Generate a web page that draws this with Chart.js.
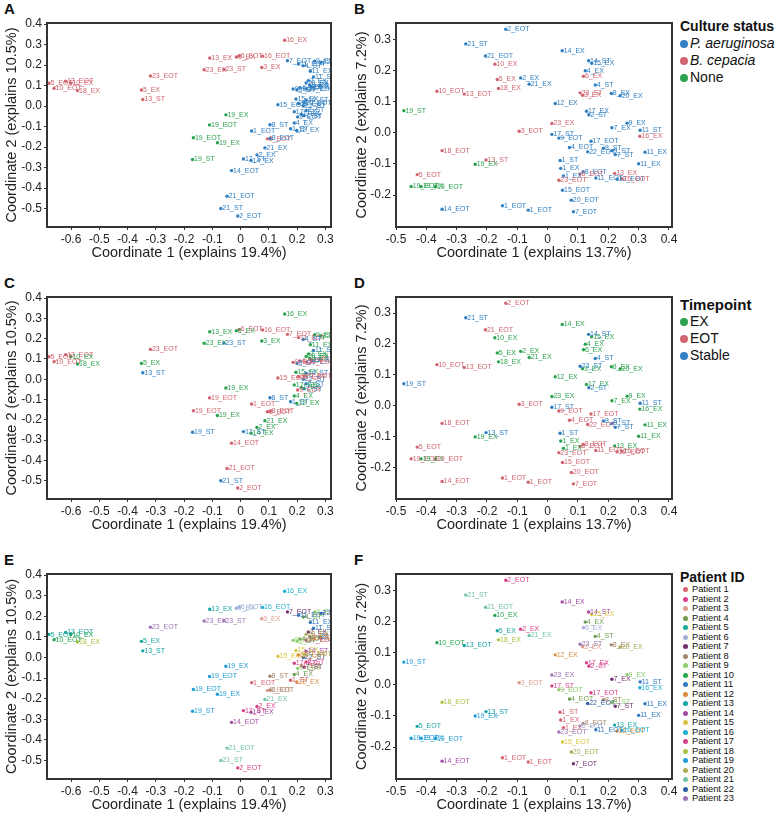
<!DOCTYPE html>
<html>
<head>
<meta charset="utf-8">
<script src="https://cdn.jsdelivr.net/npm/chart.js@4.4.1/dist/chart.umd.min.js"></script>
<style>
  body { margin: 0; background: #fff; font-family: Arial, 'Liberation Sans', sans-serif; color: #111; }
  #page { position: relative; width: 784px; height: 820px; overflow: hidden; }
  canvas { position: absolute; }
  .letter { position: absolute; font-weight: bold; font-size: 15px; line-height: 16px; }
  .legend { position: absolute; left: 680px; }
  .legend .ttl { font-weight: bold; font-size: 14px; line-height: 17px; white-space: nowrap; }
  .legend .row { display: flex; align-items: center; font-size: 14px; line-height: 17px; white-space: nowrap; }
  .legend .dot { width: 8px; height: 8px; border-radius: 50%; margin-right: 2px; flex: none; }
  #legPat .ttl { line-height: 14px; margin-bottom: 1px; }
  #legPat .row { font-size: 9.3px; line-height: 9.5px; }
  #legPat .dot { width: 5px; height: 5px; margin: 0 4px 0 3px; }
</style>
</head>
<body>
<div id="page">
  <div class="letter" style="left:4px;top:1px">A</div>
  <div class="letter" style="left:354px;top:1px">B</div>
  <div class="letter" style="left:4px;top:275px">C</div>
  <div class="letter" style="left:354px;top:275px">D</div>
  <div class="letter" style="left:4px;top:552px">E</div>
  <div class="letter" style="left:354px;top:552px">F</div>
  <div class="legend" id="legStatus" style="top:18px"></div>
  <div class="legend" id="legTime" style="top:296px"></div>
  <div class="legend" id="legPat" style="top:570px"></div>
</div>
<script>
// Ordenación 1 (columna izquierda: A, C, E)
const ORD1_LABELS = ['16_EX','13_EX','6_EOT','6_EX','16_EOT','7_EOT','3_EX','23_EX','23_ST','23_EOT',
  '5_EOT','13_EOT','10_EX','10_EOT','18_EX','5_EX','13_ST','19_EX','19_EOT','19_EOT',
  '19_EX','19_ST','1_EOT','8_ST','4_EX','1_ST','12_EX','3_EOT','8_EOT','21_EX',
  '17_ST','2_EX','14_EX','14_EOT','21_EOT','21_ST','2_EOT','11_EOT','9_EX','22_EX',
  '4_ST','11_EX','11_ST','7_EX','20_EX','9_EOT','9_ST','4_EOT','17_EOT','22_EOT',
  '8_EX','12_ST','15_EOT','15_EX','14_ST','22_ST','12_EOT','20_EOT','2_ST','17_EX',
  '1_EX','7_ST','9_EOT'];
const ORD1_X = [0.156,-0.109,-0.005,-0.015,0.078,0.166,0.075,-0.129,-0.059,-0.319,
  -0.678,-0.619,-0.601,-0.66,-0.577,-0.351,-0.346,-0.052,-0.110,-0.167,
  -0.082,-0.170,0.039,0.104,0.190,0.177,0.199,0.095,0.105,0.086,
  0.010,0.058,0.037,-0.032,-0.048,-0.070,-0.010,0.205,0.262,0.285,
  0.222,0.247,0.258,0.240,0.232,0.186,0.200,0.210,0.233,0.280,
  0.245,0.252,0.132,0.196,0.232,0.222,0.205,0.225,0.232,0.190,
  0.215,0.225,0.202];
const ORD1_Y = [0.321,0.234,0.245,0.239,0.243,0.221,0.188,0.177,0.178,0.147,
  0.111,0.121,0.111,0.086,0.075,0.078,0.032,-0.043,-0.092,-0.155,
  -0.179,-0.261,-0.122,-0.091,-0.083,-0.111,-0.119,-0.160,-0.158,-0.204,
  -0.258,-0.238,-0.266,-0.315,-0.440,-0.500,-0.536,0.205,0.219,0.214,
  0.196,0.170,0.142,0.124,0.112,0.083,0.078,0.090,0.085,0.098,
  0.102,0.092,0.006,0.034,0.030,0.000,0.012,0.016,-0.022,-0.028,
  -0.040,-0.047,-0.053];

// Ordenación 2 (columna derecha: B, D, F)
const ORD2_LABELS = ['2_EOT','21_ST','21_EOT','10_EX','5_EX','2_EX','21_EX','18_EX','10_EOT','13_EOT',
  '19_ST','14_EX','14_ST','15_EX','4_EX','6_EX','4_ST','23_ST','3_EX','8_EX',
  '20_EX','12_EX','17_EX','2_ST','23_EX','7_EX','9_EX','11_ST','16_EX','3_EOT',
  '17_ST','9_EOT','17_EOT','4_EOT','22_EOT','8_ST','9_ST','7_ST','11_EX','11_EX',
  '18_EOT','13_ST','19_EX','1_ST','1_EX','5_EOT','8_EOT','6_EOT','1_EX','23_EOT',
  '13_EX','11_EOT','12_EOT','16_EOT','15_EOT','20_EOT','7_EOT','1_EOT','1_EOT','14_EOT',
  '19_EOT','19_EX','19_EOT'];
const ORD2_X = [-0.138,-0.270,-0.205,-0.174,-0.166,-0.089,-0.061,-0.162,-0.365,-0.275,
  -0.474,0.048,0.135,0.145,0.124,0.118,0.157,0.107,0.115,0.210,
  0.239,0.025,0.128,0.136,0.014,0.212,0.262,0.305,0.304,-0.094,
  0.014,0.037,0.143,0.072,0.132,0.184,0.212,0.223,0.321,0.300,
  -0.348,-0.203,-0.239,0.041,0.043,-0.430,0.117,0.107,0.052,0.037,
  0.221,0.159,0.229,0.245,0.049,0.078,0.085,-0.149,-0.064,-0.348,
  -0.450,-0.417,-0.370];
const ORD2_Y = [0.332,0.285,0.246,0.220,0.171,0.176,0.156,0.142,0.133,0.124,
  0.071,0.263,0.231,0.223,0.199,0.181,0.153,0.128,0.120,0.126,
  0.119,0.094,0.069,0.058,0.030,0.016,0.031,0.008,-0.011,0.005,
  -0.005,-0.017,-0.027,-0.047,-0.061,-0.049,-0.057,-0.070,-0.062,-0.099,
  -0.057,-0.087,-0.101,-0.089,-0.114,-0.134,-0.125,-0.132,-0.138,-0.152,
  -0.130,-0.145,-0.149,-0.147,-0.184,-0.216,-0.253,-0.234,-0.248,-0.245,
  -0.172,-0.172,-0.173];

// Marcas de los ejes
const ORD1_XTICKS = [-0.6,-0.5,-0.4,-0.3,-0.2,-0.1,0,0.1,0.2,0.3];
const ORD1_YTICKS = [-0.5,-0.4,-0.3,-0.2,-0.1,0,0.1,0.2,0.3,0.4];
const ORD2_XTICKS = [-0.5,-0.4,-0.3,-0.2,-0.1,0,0.1,0.2,0.3,0.4];
const ORD2_YTICKS = [-0.2,-0.1,0,0.1,0.2,0.3];

// Categorías
const STATUS_NAMES  = ['P. aeruginosa','B. cepacia','None'];
const STATUS_COLORS = ['#2f7fc1','#d0636f','#2ca24f'];
const BCEPACIA_PATIENTS = [3,5,6,10,13,16,18,23];
const NONE_PATIENTS = [19];

const TIME_NAMES  = ['EX','EOT','Stable'];
const TIME_CODES  = ['EX','EOT','ST'];
const TIME_COLORS = ['#2ca24f','#d0636f','#2f7fc1'];

const PATIENTS = Array.from({ length: 23 }, (_, i) => 'Patient ' + (i + 1));
const PATIENT_COLORS = ['#d4626f','#d9418c','#dc9d8b','#6e9a50','#1aa89c','#a3b0dc','#6e2f6f','#a4856c',
  '#8fcd6b','#24a552','#2c79c0','#dd8d41','#18a3a4','#a34ba4','#dac443','#1fb0d4',
  '#d7428c','#abc343','#1f9cd6','#abab55','#73c4a3','#2c5fa3','#9d74b4'];

const patientOf = l => +l.split('_')[0];
const statusColor = l => {
  const p = patientOf(l);
  if (BCEPACIA_PATIENTS.includes(p)) return STATUS_COLORS[1];
  if (NONE_PATIENTS.includes(p)) return STATUS_COLORS[2];
  return STATUS_COLORS[0];
};
const timeColor = l => TIME_COLORS[TIME_CODES.indexOf(l.split('_')[1])];
const patientColor = l => PATIENT_COLORS[patientOf(l) - 1];

Chart.defaults.font.family = 'Arial, "Liberation Sans", sans-serif';

// Etiqueta de texto junto a cada punto
const pointLabels = {
  id: 'pointLabels',
  afterDatasetsDraw(chart) {
    const { ctx, chartArea: a } = chart;
    const ds = chart.data.datasets[0];
    ctx.save();
    ctx.beginPath();
    ctx.rect(a.left, a.top, a.right - a.left, a.bottom - a.top);
    ctx.clip();
    ctx.font = '7px Arial, "Liberation Sans", sans-serif';
    ctx.textBaseline = 'middle';
    chart.getDatasetMeta(0).data.forEach((pt, i) => {
      ctx.fillStyle = ds.backgroundColor[i];
      ctx.fillText(ds.names[i], pt.x + 1.5, pt.y);
    });
    ctx.restore();
  }
};

// Marco completo alrededor del área del gráfico
const frame = {
  id: 'frame',
  afterDraw(chart) {
    const { ctx, chartArea: a } = chart;
    ctx.save();
    ctx.strokeStyle = '#333';
    ctx.lineWidth = 2;
    ctx.strokeRect(a.left, a.top, a.right - a.left, a.bottom - a.top);
    ctx.restore();
  }
};

const COLS = [
  { left: 0,   width: 340, yAxisW: 47,
    labels: ORD1_LABELS, xs: ORD1_X, ys: ORD1_Y, xMin: -0.685, xMax: 0.32, yMin: -0.59, yMax: 0.405,
    xTicks: ORD1_XTICKS, yTicks: ORD1_YTICKS,
    xTitle: 'Coordinate 1 (explains 19.4%)', yTitle: 'Coordinate 2 (explains 10.5%)' },
  { left: 350, width: 330, yAxisW: 46,
    labels: ORD2_LABELS, xs: ORD2_X, ys: ORD2_Y, xMin: -0.5, xMax: 0.41, yMin: -0.302, yMax: 0.352,
    xTicks: ORD2_XTICKS, yTicks: ORD2_YTICKS,
    xTitle: 'Coordinate 1 (explains 13.7%)', yTitle: 'Coordinate 2 (explains 7.2%)' },
];
const ROWS = [
  { top: 23,  h: 204, color: statusColor },
  { top: 297, h: 202, color: timeColor },
  { top: 574, h: 205, color: patientColor },
];

function makePanel(col, row) {
  const pad = 23;
  const xH = Math.min(45, 820 - row.top - row.h);
  const cv = document.createElement('canvas');
  cv.width = col.width;
  cv.height = pad + row.h + xH;
  cv.style.left = col.left + 'px';
  cv.style.top = (row.top - pad) + 'px';
  document.getElementById('page').appendChild(cv);

  const tickStyle = { color: '#222', font: { size: 12 }, padding: 2, autoSkip: false, maxRotation: 0 };
  const gridStyle = { display: true, drawOnChartArea: false, drawTicks: true, tickLength: 3, color: '#333' };

  new Chart(cv, {
    type: 'scatter',
    data: {
      datasets: [{
        names: col.labels,
        data: col.xs.map((x, i) => ({ x, y: col.ys[i] })),
        backgroundColor: col.labels.map(row.color),
        borderWidth: 0,
        pointRadius: 1.7,
      }],
    },
    options: {
      responsive: false,
      animation: false,
      events: [],
      layout: { padding: { top: pad, right: col.width - col.yAxisW - (col.left ? 276 : 284), left: 0, bottom: 0 } },
      plugins: { legend: { display: false }, tooltip: { enabled: false } },
      scales: {
        x: {
          type: 'linear', min: col.xMin, max: col.xMax,
          afterBuildTicks: s => { s.ticks = col.xTicks.map(v => ({ value: v })); },
          afterFit: s => { s.height = xH; },
          ticks: { ...tickStyle, callback: v => (v === 0 ? '0' : v.toFixed(1)) },
          grid: gridStyle,
          border: { display: false },
          title: { display: true, text: col.xTitle, color: '#222', font: { size: 14.5 },
                   padding: { top: 0, bottom: xH - 26 - 8.7 } },
        },
        y: {
          type: 'linear', min: col.yMin, max: col.yMax,
          afterBuildTicks: s => { s.ticks = col.yTicks.map(v => ({ value: v })); },
          afterFit: s => { s.width = col.yAxisW; },
          ticks: { ...tickStyle, callback: v => v.toFixed(1) },
          grid: gridStyle,
          border: { display: false },
          title: { display: true, text: col.yTitle, color: '#222', font: { size: 14.5 },
                   padding: { top: 3.3, bottom: 0 } },
        },
      },
    },
    plugins: [pointLabels, frame],
  });
}

ROWS.forEach(r => COLS.forEach(c => makePanel(c, r)));

// Leyendas
function legend(id, title, names, colors, italic) {
  const el = document.getElementById(id);
  el.innerHTML = `<div class="ttl">${title}</div>` + names.map((n, i) =>
    `<div class="row"><span class="dot" style="background:${colors[i]}"></span>` +
    `<span style="${italic ? 'font-style:italic' : ''}">${n}</span></div>`).join('');
}
legend('legStatus', 'Culture status', STATUS_NAMES, STATUS_COLORS, [true, true, false]);
document.querySelectorAll('#legStatus .row span:last-child')[2].style.fontStyle = 'normal';
legend('legTime', 'Timepoint', TIME_NAMES, TIME_COLORS, false);
legend('legPat', 'Patient ID', PATIENTS, PATIENT_COLORS, false);
document.querySelector('#legTime .ttl').style.fontSize = '15px';
</script>
</body>
</html>
